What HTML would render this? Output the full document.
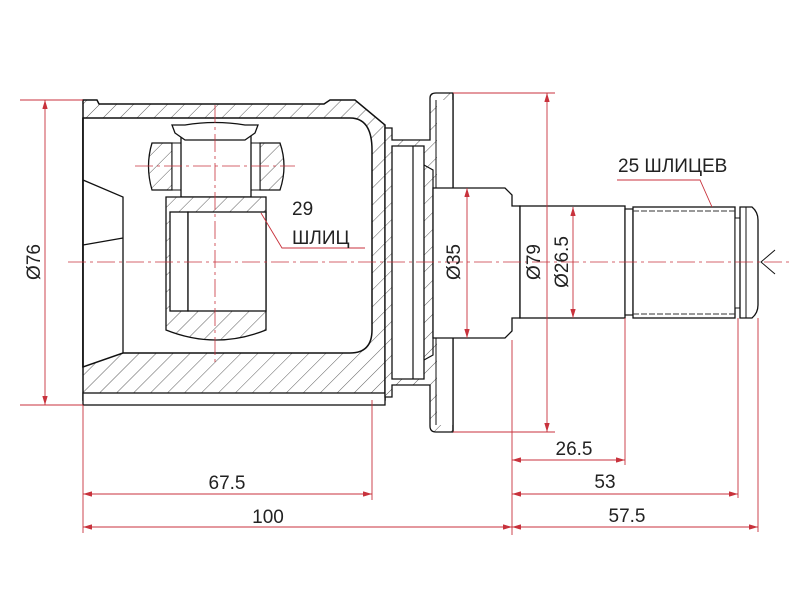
<!DOCTYPE html>
<html><head><meta charset="utf-8"><style>
html,body{margin:0;padding:0;background:#fff}
svg{display:block}
text{font-family:"Liberation Sans",sans-serif;fill:#222}
</style></head><body>
<svg width="800" height="600" viewBox="0 0 800 600" xmlns="http://www.w3.org/2000/svg">
<defs>
<pattern id="h" patternUnits="userSpaceOnUse" width="12" height="12" patternTransform="rotate(45)">
<rect width="12" height="12" fill="#fff"/><line x1="0" y1="0" x2="0" y2="12" stroke="#333" stroke-width="0.8"/>
</pattern>
<marker id="a" viewBox="0 0 10 6" refX="10" refY="3" markerWidth="10" markerHeight="6" orient="auto-start-reverse"><path d="M0,0L10,3L0,6z" fill="#c8323c"/></marker>
</defs>
<!-- housing -->
<path d="M83,100 L97,100 L99,104 L324,104 L330,100 L355,100 L385,125 L385,400 L83,400 Z" fill="url(#h)" stroke="#111" stroke-width="1.5"/>
<path d="M83,118 L350,118 Q372,118 372,150 L372,330 Q372,353 350,353 L123,353 L83,367 Z" fill="#fff" stroke="#111" stroke-width="1.5"/>
<line x1="83" y1="118" x2="83" y2="367" stroke="#111" stroke-width="1.5"/>
<polyline points="83,180 123,197 123,353" fill="none" stroke="#111" stroke-width="1.3"/>
<polyline points="83,245 123,238" fill="none" stroke="#111" stroke-width="1.3"/>
<rect x="83" y="393" width="302" height="12" fill="#fff" stroke="#111" stroke-width="1.3"/>
<!-- roller -->
<path d="M152,143 L172,143 L172,190 L152,190 Q145,166 152,143Z" fill="url(#h)" stroke="#111" stroke-width="1.3"/>
<path d="M260,143 L280,143 Q288,166 280,190 L260,190Z" fill="url(#h)" stroke="#111" stroke-width="1.3"/>
<rect x="172" y="143" width="9" height="47" fill="#fff" stroke="#111"/>
<rect x="251" y="143" width="9" height="47" fill="#fff" stroke="#111"/>
<rect x="181" y="135" width="70" height="62" fill="#fff" stroke="#111" stroke-width="1.3"/>
<path d="M172,125 L185,125 Q215,120 245,125 L258,125 L255,133 L245,140 L185,140 L175,133Z" fill="#fff" stroke="#111" stroke-width="1.3"/>
<!-- spider -->
<path d="M166,197 L266,197 L266,330 Q216,350 166,330Z" fill="url(#h)" stroke="#111" stroke-width="1.3"/>
<rect x="170" y="212" width="18" height="99" fill="#fff" stroke="#111" stroke-width="1.3"/>
<rect x="188" y="212" width="78" height="99" fill="#fff" stroke="#111" stroke-width="1.3"/>
<!-- sleeve and flange -->
<path d="M385,128 L392,128 L392,140 L430,140 L430,98 Q430,93 436,93 L453,93 L453,432 L436,432 Q430,432 430,426 L430,385 L392,385 L392,397 L385,397Z" fill="url(#h)" stroke="#111" stroke-width="1.3"/>
<path d="M392,146 L424,146 L424,379 L392,379Z" fill="#fff" stroke="#111" stroke-width="1.3"/>
<path d="M413,146 L413,379" stroke="#111" stroke-width="1.2"/>
<path d="M424,165 L433,170 L433,355 L424,360" fill="none" stroke="#111" stroke-width="1.2"/>
<path d="M436,100 L436,425" stroke="#111" stroke-width="1"/>
<rect x="437" y="100" width="16" height="325" fill="#fff"/>
<line x1="453" y1="93" x2="453" y2="432" stroke="#111" stroke-width="1.3"/>
<!-- stem -->
<path d="M433,188 L505,188 L512,195 L512,206 L520,206 L520,318 L512,318 L512,331 L505,338 L433,338Z" fill="#fff" stroke="#111" stroke-width="1.3"/>
<rect x="520" y="206" width="105" height="112" fill="#fff" stroke="#111" stroke-width="1.3"/>
<rect x="625" y="209" width="8" height="106" fill="#fff" stroke="#111" stroke-width="1.2"/>
<rect x="633" y="207" width="102" height="111" fill="#fff" stroke="#111" stroke-width="1.3"/>
<line x1="633" y1="211" x2="735" y2="211" stroke="#333" stroke-dasharray="6,2"/>
<line x1="633" y1="314" x2="735" y2="314" stroke="#333" stroke-dasharray="6,2"/>
<rect x="735" y="218" width="5" height="90" fill="#fff" stroke="#111"/>
<path d="M740,207 L752,207 Q758,212 758,220 L758,305 Q758,313 752,318 L740,318Z" fill="#fff" stroke="#111" stroke-width="1.3"/>
<line x1="746" y1="207" x2="746" y2="318" stroke="#111"/>
<path d="M775,250 L761,262 L775,274" fill="none" stroke="#111"/>
<!-- centerlines -->
<g stroke="#c8323c" stroke-width="0.8" stroke-dasharray="18,4,3,4">
<line x1="68" y1="262" x2="790" y2="262"/>
<line x1="215" y1="105" x2="215" y2="365"/>
<line x1="135" y1="166" x2="295" y2="166"/>
</g>
<!-- dimensions -->
<g stroke="#c8323c" stroke-width="0.9" fill="none">
<line x1="20" y1="100" x2="83" y2="100"/><line x1="20" y1="405" x2="83" y2="405"/>
<line x1="45" y1="100" x2="45" y2="405" marker-start="url(#a)" marker-end="url(#a)"/>
<line x1="83" y1="405" x2="83" y2="533"/><line x1="372" y1="400" x2="372" y2="500"/>
<line x1="512" y1="340" x2="512" y2="535"/><line x1="625" y1="318" x2="625" y2="465"/>
<line x1="738" y1="318" x2="738" y2="498"/><line x1="758" y1="318" x2="758" y2="532"/>
<line x1="453" y1="93" x2="555" y2="93"/><line x1="453" y1="432" x2="555" y2="432"/>
<line x1="547" y1="93" x2="547" y2="432" marker-start="url(#a)" marker-end="url(#a)"/>
<line x1="467" y1="188" x2="467" y2="338" marker-start="url(#a)" marker-end="url(#a)"/>
<line x1="573" y1="207" x2="573" y2="318" marker-start="url(#a)" marker-end="url(#a)"/>
<line x1="512" y1="460" x2="625" y2="460" marker-start="url(#a)" marker-end="url(#a)"/>
<line x1="83" y1="494" x2="372" y2="494" marker-start="url(#a)" marker-end="url(#a)"/>
<line x1="512" y1="494" x2="738" y2="494" marker-start="url(#a)" marker-end="url(#a)"/>
<line x1="83" y1="527" x2="512" y2="527" marker-start="url(#a)" marker-end="url(#a)"/>
<line x1="512" y1="527" x2="758" y2="527" marker-start="url(#a)" marker-end="url(#a)"/>
<polyline points="365,248 282,248 261,213"/>
<polyline points="617,180 700,180 712,207"/>
</g>
<g font-size="19">
<text x="227" y="489" text-anchor="middle">67.5</text>
<text x="268" y="523" text-anchor="middle">100</text>
<text x="574" y="455" text-anchor="middle">26.5</text>
<text x="605" y="488" text-anchor="middle">53</text>
<text x="627" y="522" text-anchor="middle">57.5</text>
<text x="292" y="215">29</text>
<text x="292" y="244">ШЛИЦ</text>
<text x="618" y="172">25 ШЛИЦЕВ</text>
<text transform="translate(40,262) rotate(-90)" text-anchor="middle">Ø76</text>
<text transform="translate(460,262) rotate(-90)" text-anchor="middle">Ø35</text>
<text transform="translate(540,262) rotate(-90)" text-anchor="middle">Ø79</text>
<text transform="translate(568,262) rotate(-90)" text-anchor="middle">Ø26.5</text>
</g>
</svg>
</body></html>
